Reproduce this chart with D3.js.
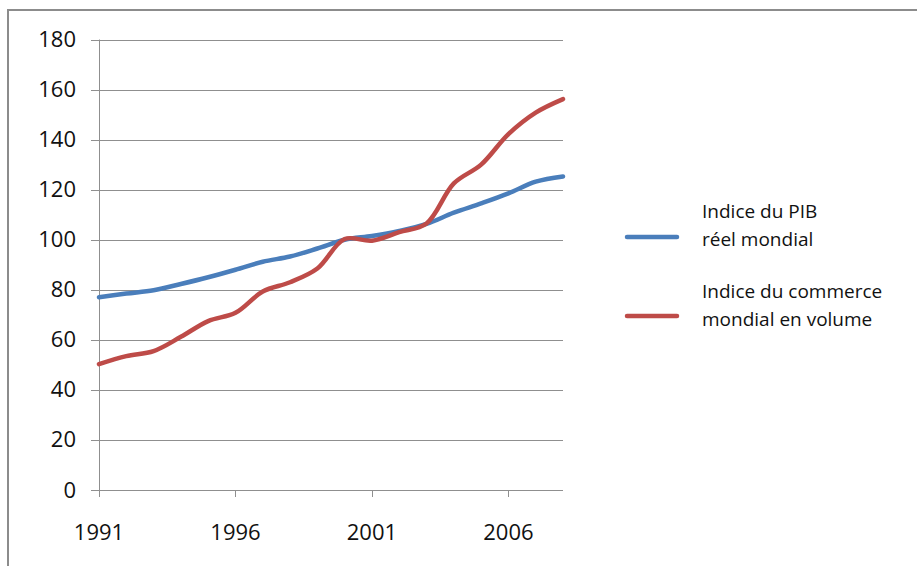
<!DOCTYPE html>
<html lang="fr"><head>
<meta charset="utf-8">
<title>PIB et commerce mondial</title>
<script src="https://cdn.jsdelivr.net/npm/d3@7"></script>
<style>
  body { margin: 0; background: #fff; }
  text { font-family: "Open Sans", "DejaVu Sans", sans-serif; fill: #111; }
</style>
</head>
<body>
<svg width="917" height="566"></svg>
<script>
var years = d3.range(1991, 2009);
var pib = [77, 78.5, 79.8, 82.3, 85, 88, 91.2, 93.3, 96.5, 100, 101.5, 103.5, 106.3, 110.8, 114.5, 118.5, 123.2, 125.3];
var commerce = [50.3, 53.5, 55.5, 61.2, 67.5, 70.8, 79.3, 83, 88.5, 100.3, 99.6, 103, 106.5, 122.5, 130, 142.2, 150.8, 156.2];
var yTicks = [0, 20, 40, 60, 80, 100, 120, 140, 160, 180];
var xTicks = [1991, 1996, 2001, 2006];
var legendLabels = [["Indice du PIB", "réel mondial"], ["Indice du commerce", "mondial en volume"]];
var colors = ["#4A7EBB", "#BE4B48"];

var svg = d3.select("svg");

// outer frame (top and left only)
svg.append("path")
   .attr("d", "M8,566 L8,10 L917,10")
   .attr("fill", "none")
   .attr("stroke", "#8c8c8c")
   .attr("stroke-width", 2);

var x = d3.scaleLinear().domain([1991, 2008]).range([99, 563]);
var y = d3.scaleLinear().domain([0, 180]).range([490, 39.5]);

// gridlines
svg.append("g")
   .selectAll("line")
   .data(yTicks)
   .enter()
   .append("line")
   .attr("x1", 91)
   .attr("x2", 563)
   .attr("y1", function(d){ return Math.round(y(d)) + 0.5; })
   .attr("y2", function(d){ return Math.round(y(d)) + 0.5; })
   .attr("stroke", "#8f8f8f")
   .attr("stroke-width", 1);

svg.append("g")
   .selectAll("text")
   .data(yTicks)
   .enter()
   .append("text")
   .attr("x", 76)
   .attr("y", function(d){ return y(d) + 7.5; })
   .attr("text-anchor", "end")
   .style("font-size", "22px")
   .text(function(d){ return d; });

// y axis line
svg.append("line")
   .attr("x1", 99.5).attr("x2", 99.5)
   .attr("y1", y(180)).attr("y2", 497)
   .attr("stroke", "#8f8f8f");

// x ticks
svg.append("g")
   .selectAll("line")
   .data(xTicks)
   .enter()
   .append("line")
   .attr("x1", function(d){ return Math.round(x(d)) + 0.5; })
   .attr("x2", function(d){ return Math.round(x(d)) + 0.5; })
   .attr("y1", 490)
   .attr("y2", 497)
   .attr("stroke", "#8f8f8f");

svg.append("g")
   .selectAll("text")
   .data(xTicks)
   .enter()
   .append("text")
   .attr("x", function(d){ return x(d); })
   .attr("y", 540)
   .attr("text-anchor", "middle")
   .style("font-size", "22px")
   .text(function(d){ return d; });

var line = d3.line()
   .x(function(d, i){ return x(years[i]); })
   .y(function(d){ return y(d); })
   .curve(d3.curveCatmullRom.alpha(0.5));

[pib, commerce].forEach(function(s, k) {
  svg.append("path")
     .datum(s)
     .attr("fill", "none")
     .attr("stroke", colors[k])
     .attr("stroke-width", 4.5)
     .attr("stroke-linecap", "round")
     .attr("stroke-linejoin", "round")
     .attr("d", line);
});

// legend
var leg = svg.append("g");
legendLabels.forEach(function(lab, k) {
  var ly = 237 + k * 79;
  leg.append("line")
     .attr("x1", 627).attr("x2", 677)
     .attr("y1", ly).attr("y2", ly)
     .attr("stroke", colors[k])
     .attr("stroke-width", 4.5)
     .attr("stroke-linecap", "round");
  lab.forEach(function(t, j) {
    leg.append("text")
       .attr("x", 702)
       .attr("y", ly - 19 + j * 28 + (k ? 1 : 0))
       .style("font-size", "19px")
       .text(t);
  });
});
</script>
</body>
</html>
